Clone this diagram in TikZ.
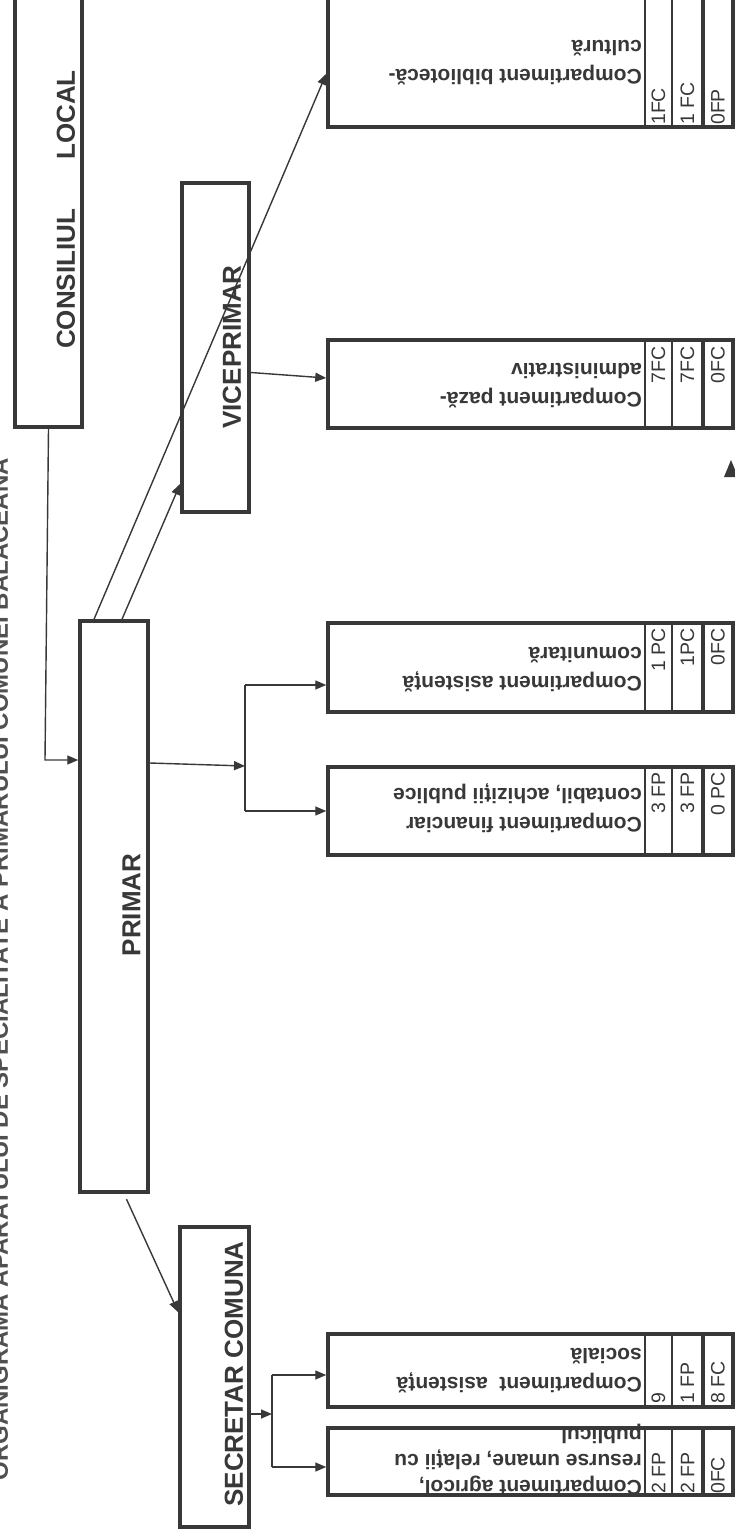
\documentclass[tikz,border=0pt]{standalone}
\usepackage{fontspec}
\setmainfont{Liberation Sans}
\usetikzlibrary{arrows.meta,fit}
\definecolor{ink}{HTML}{383838}
\definecolor{titleink}{HTML}{505050}
\begin{document}
\begin{tikzpicture}[x=1pt,y=-1pt,
  box/.style={draw=ink, line width=3.5pt, inner sep=0pt},
  cbox/.style={draw=ink, line width=3.5pt, inner sep=0pt},
  div/.style={draw=ink, line width=2.5pt},
  divb/.style={draw=ink, line width=3.5pt},
  conn/.style={draw=ink, line width=1.4pt},
  arr/.style={conn, -{Triangle[length=11pt,width=9pt]}},
  big/.style={font=\bfseries\fontsize{26}{30}\selectfont, text=ink, rotate=90, inner sep=0pt},
  clabel/.style={font=\bfseries\fontsize{21}{29}\selectfont, text=ink, rotate=180, align=left, inner sep=0pt, anchor=north west},
  num/.style={font=\fontsize{19.5}{22}\selectfont, text=ink, rotate=90, inner sep=0pt},
]
\useasboundingbox (0,0) rectangle (735,1536);
\clip (0,0) rectangle (735,1536);
\fill[white] (0,0) rectangle (735,1536);

% title along the left edge (cut off)
\node[font=\bfseries\fontsize{24}{28}\selectfont, text=titleink, rotate=90, anchor=base east, inner sep=0pt] (title) at (8,458) {ORGANIGRAMA APARATULUI DE SPECIALITATE A PRIMARULUI COMUNEI BALACEANA};

% main boxes
\node[box, fit={(15,-10) (82,427)}] (consiliul) {};
\node[box, fit={(80,621) (148,1192)}] (primar) {};
\node[box, fit={(182,183) (249,512)}] (vice) {};
\node[box, fit={(180,1227) (249,1527)}] (secretar) {};

\node[big] (tconsiliul) at (66,209.5) {CONSILIUL\hspace{49pt}LOCAL};
\node[big] (tprimar) at (131.5,905) {PRIMAR};
\node[big] (tvice) at (232,347) {VICEPRIMAR};
\node[big] (tsecretar) at (234,1374) {SECRETAR COMUNA};

% compartment boxes
\node[cbox, fit={(328,-10) (733,127)}] (bib) {};
\node[cbox, fit={(328,340) (733,428)}] (paza) {};
\node[cbox, fit={(328,623) (733,712)}] (com) {};
\node[cbox, fit={(328,767) (733,855)}] (fin) {};
\node[cbox, fit={(328,1334) (733,1407)}] (soc) {};
\node[cbox, fit={(328,1428) (733,1495)}] (agr) {};

\foreach \t/\u in {-10/127, 340/428, 623/712, 767/855, 1334/1407, 1428/1495}{
  \draw[div] (645,\t) -- (645,\u);
  \draw[div] (672,\t) -- (672,\u);
  \draw[divb] (703,\t) -- (703,\u);
}

\node[clabel] (lbib) at (642,85) {Compartiment bibliotecă-\\cultură};
\node[clabel] (lpaza) at (642,408) {Compartiment pază-\\administrativ};
\node[clabel] (lcom) at (642,692) {Compartiment asistență\\comunitară};
\node[clabel] (lfin) at (642,833) {Compartiment financiar\\contabil, achiziții publice};
\node[clabel] (lsoc) at (642,1393) {Compartiment\ \ asistență\\socială};
\node[clabel, font=\bfseries\fontsize{21}{26}\selectfont] (lagr) at (642,1496) {Compartiment agricol,\\resurse umane, relații cu\\publicul};

% staff numbers
\node[num, anchor=west] (nb1) at (658.5,125) {1FC};
\node[num, anchor=west] (nb2) at (687.5,125) {1 FC};
\node[num, anchor=west] (nb3) at (718,125) {0FP};
\node[num, anchor=east] (np1) at (658.5,346) {7FC};
\node[num, anchor=east] (np2) at (687.5,346) {7FC};
\node[num, anchor=east] (np3) at (718,346) {0FC};
\node[num, anchor=east] (nc1) at (658.5,628) {1 PC};
\node[num, anchor=east] (nc2) at (687.5,628) {1PC};
\node[num, anchor=east] (nc3) at (718,628) {0FC};
\node[num, anchor=east] (nf1) at (658.5,772) {3 FP};
\node[num, anchor=east] (nf2) at (687.5,772) {3 FP};
\node[num, anchor=east] (nf3) at (718,772) {0 PC};
\node[num, anchor=west] (ns1) at (658.5,1404) {9};
\node[num, anchor=west] (ns2) at (687.5,1404) {1 FP};
\node[num, anchor=west] (ns3) at (718,1404) {8 FC};
\node[num, anchor=west] (na1) at (658.5,1494) {2 FP};
\node[num, anchor=west] (na2) at (687.5,1494) {2 FP};
\node[num, anchor=west] (na3) at (718,1494) {0FC};

% connectors
\coordinate (k1) at (45,760);
\draw[arr] (consiliul.south) -- (k1) -- (k1 -| primar.west);

\draw[arr] ([xshift=8pt]primar.north) -- ([yshift=30pt]vice.south west);
\draw[arr] ([xshift=-20pt]primar.north) -- ([yshift=55pt]bib.south west);
\draw[arr] ([yshift=-25pt]vice.east) -- ([yshift=6pt]paza.west);

\coordinate (b1) at (245,766);
\coordinate (b1top) at (245,685);
\coordinate (b1bot) at (245,811);
\draw[arr] ([yshift=143.5pt]primar.east) -- (b1);
\draw[conn] (b1top) -- (b1bot);
\draw[arr] (b1top) -- (b1top -| com.west);
\draw[arr] (b1bot) -- (b1bot -| fin.west);

\draw[arr, shorten <=6pt] ([xshift=10pt]primar.south) -- ([yshift=-87pt]secretar.north west);

\coordinate (b2) at (272,1414);
\coordinate (b2top) at (272,1375);
\coordinate (b2bot) at (272,1467);
\draw[arr] ([yshift=-37pt]secretar.east) -- (b2);
\draw[conn] (b2top) -- (b2bot);
\draw[arr] (b2top) -- (b2top -| soc.west);
\draw[arr] (b2bot) -- (b2bot -| agr.west);

% stray arrowhead at the right edge
\fill[ink] (724,477) -- (731,460) -- (738,477) -- cycle;
\end{tikzpicture}
\end{document}
